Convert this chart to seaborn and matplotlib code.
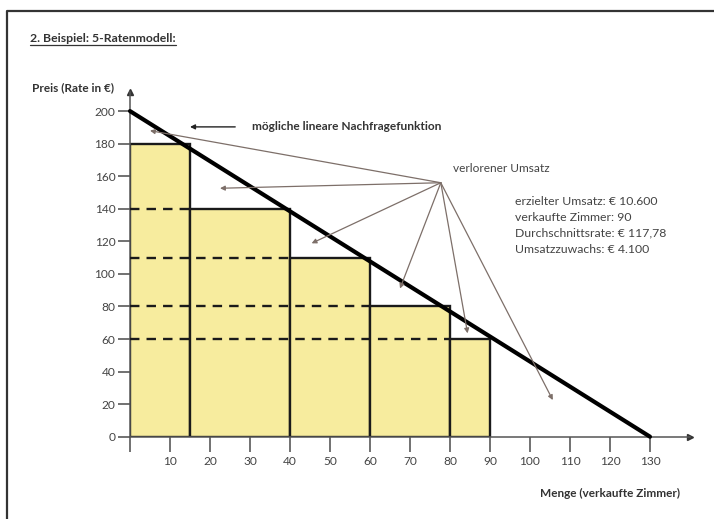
import matplotlib
matplotlib.use('Agg')
import matplotlib.pyplot as plt
import seaborn as sns
import pandas as pd
from matplotlib.lines import Line2D

sns.set_theme(style='white')
plt.rcParams['font.family'] = ['Lato', 'DejaVu Sans']

# ── data ───────────────────────────────────────────────────────────────────
bar_left = [0, 15, 40, 60, 80]
bar_width = [15, 25, 20, 20, 10]
bar_price = [180, 140, 110, 80, 60]

demand_q = [0, 130]
demand_p = [200, 0]

x_ticks = list(range(0, 140, 10))
y_ticks = list(range(0, 220, 20))

# "verlorener Umsatz" arrows: source point and targets (data coords)
lost_src = (77.7, 156)
lost_targets = [(5, 188), (22.5, 152.6), (45.4, 118.8),
                (67.5, 91), (84.4, 63.5), (105.7, 22.5)]

info_lines = ['erzielter Umsatz: € 10.600',
              'verkaufte Zimmer: 90',
              'Durchschnittsrate: € 117,78',
              'Umsatzzuwachs: € 4.100']

# ── figure ─────────────────────────────────────────────────────────────────
fig = plt.figure(figsize=(7.14, 5.19), dpi=100)
ax = fig.add_axes([130 / 714, 82.3 / 519, 560 / 714, 212 * 1.628 / 519])
ax.set_xlim(0, 140)
ax.set_ylim(0, 212)

ax.bar(bar_left, bar_price, width=bar_width, align='edge',
       color='#F7EC9E', edgecolor='#1a1a1a', linewidth=1.7, zorder=2)

# dashed price levels: each lower rate extends back to the y axis
for i in range(1, len(bar_price)):
    ax.hlines(bar_price[i], 0, bar_left[i], colors='#1a1a1a',
              linestyles=(0, (4, 3)), linewidth=1.7, zorder=3)

demand = pd.DataFrame({'Menge': demand_q, 'Preis': demand_p})
sns.lineplot(data=demand, x='Menge', y='Preis', color='black',
             linewidth=3, ax=ax, zorder=5, clip_on=False)

# axes styling
for s in ['top', 'right']:
    ax.spines[s].set_visible(False)
for s in ['left', 'bottom']:
    ax.spines[s].set_color('#555555')
    ax.spines[s].set_linewidth(1.1)
ax.plot(1, 0, '>', color='#333333', ms=5, transform=ax.get_yaxis_transform(), clip_on=False)
ax.plot(0, 1, '^', color='#333333', ms=5, transform=ax.get_xaxis_transform(), clip_on=False)

ax.set_xticks(x_ticks)
ax.set_xticklabels(['' if t == 0 else str(t) for t in x_ticks])
ax.set_yticks(y_ticks)
ax.set_yticklabels([str(t) for t in y_ticks])
ax.tick_params(axis='x', direction='out', length=11, width=1.3, color='#666666',
               pad=3, labelsize=8.6, labelcolor='#444444', bottom=True)
ax.tick_params(axis='y', direction='out', length=8.5, width=1.3, color='#666666',
               pad=2, labelsize=8.6, labelcolor='#444444', left=True)
ax.set_xlabel('')
ax.set_ylabel('')
ax.grid(False)

# lost revenue arrows
for tx, ty in lost_targets:
    ax.annotate('', xy=(tx, ty), xytext=lost_src,
                arrowprops=dict(arrowstyle='-|>', color='#7d6f69', lw=0.9,
                                mutation_scale=7, shrinkA=0, shrinkB=0),
                zorder=6)
ax.text(80.75, 165, 'verlorener Umsatz', fontsize=8.6, color='#444444',
        ha='left', va='center')

# demand function label
ax.annotate('', xy=(15, 190.3), xytext=(26.3, 190.3),
            arrowprops=dict(arrowstyle='-|>', color='#222222', lw=1,
                            mutation_scale=7, shrinkA=0, shrinkB=0))
ax.text(30.5, 190.3, 'mögliche lineare Nachfragefunktion', fontsize=8.6,
        fontweight='bold', color='#333333', ha='left', va='center')

for i, line in enumerate(info_lines):
    ax.text(96.25, 144.3 - i * 9.7, line, fontsize=8.8, color='#444444',
            ha='left', va='center')

ax.text(137.5, -34.6, 'Menge (verkaufte Zimmer)', fontsize=8.5, fontweight='bold',
        color='#333333', ha='right', va='center')
ax.text(-24.5, 214.2, 'Preis (Rate in €)', fontsize=8.5, fontweight='bold',
        color='#333333', ha='left', va='center')

title = fig.text(30 / 714, 1 - 38 / 519, '2. Beispiel: 5-Ratenmodell:', fontsize=8.8,
                 fontweight='bold', color='#333333', ha='left', va='center')

# underline the title
fig.canvas.draw()
bb = title.get_window_extent().transformed(fig.transFigure.inverted())
fig.add_artist(Line2D([bb.x0, bb.x1], [bb.y0 - 0.002, bb.y0 - 0.002],
                      color='#333333', lw=0.9, transform=fig.transFigure))

# outer frame (left and top edge visible)
fig.add_artist(Line2D([7 / 714, 7 / 714, 1], [0, 1 - 11 / 519, 1 - 11 / 519],
                      color='#333333', lw=1.6, transform=fig.transFigure))

fig.savefig('out.png', dpi=100)
